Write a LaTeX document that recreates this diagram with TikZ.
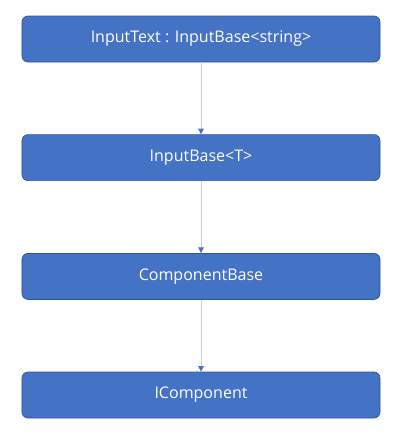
\documentclass[tikz,border=0pt]{standalone}
\usepackage{fontspec}
\setmainfont{Open Sans}
\usetikzlibrary{arrows.meta}
\definecolor{boxblue}{HTML}{4472C4}
\definecolor{boxedge}{HTML}{2F5597}
\definecolor{linkgray}{HTML}{C5CEE3}

\begin{document}
\begin{tikzpicture}[
		cls/.style={draw=boxedge, line width=.5pt, fill=boxblue, rounded corners=.15cm,
			minimum width=8.95cm, minimum height=1.15cm, text=white, font=\fontsize{11.4}{13}\selectfont},
		link/.style={draw=linkgray, line width=.6pt, -{Triangle[width=4pt,length=4pt,color=boxblue]}}
	]
		\useasboundingbox (0,0) rectangle (10,-10.9);
		\node[cls] (inputtext) at (5.025,-0.975) {InputText : InputBase<string>};
		\node[cls] (inputbase) at (5.025,-3.94) {InputBase<T>};
		\node[cls] (compbase) at (5.025,-6.91) {ComponentBase};
		\node[cls] (icomp) at (5.025,-9.875) {IComponent};
		\draw[link] (inputtext) -- (inputbase);
		\draw[link] (inputbase) -- (compbase);
		\draw[link] (compbase) -- (icomp);
	\end{tikzpicture}
\end{document}
